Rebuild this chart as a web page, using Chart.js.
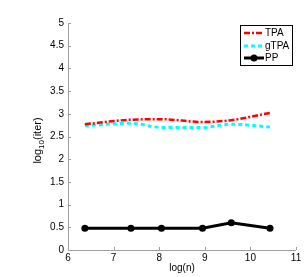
<!DOCTYPE html>
<html><head><meta charset="utf-8">
<script src="https://cdn.jsdelivr.net/npm/chart.js@4/dist/chart.umd.min.js"></script>
<style>html,body{margin:0;padding:0;background:#fff}#w{width:304px;height:277px}</style>
</head><body><div id="w"><canvas id="c" width="304" height="277"></canvas></div>
<script>
const xValues = [6.37, 7.38, 8.05, 8.95, 9.58, 10.43];
const tpa = [2.77, 2.87, 2.88, 2.82, 2.86, 3.02];
const gtpa = [2.74, 2.79, 2.70, 2.70, 2.77, 2.71];
const pp = [0.477, 0.477, 0.477, 0.477, 0.60, 0.477];
const seriesNames = ['TPA', 'gTPA', 'PP'];
const xTicks = [6, 7, 8, 9, 10, 11];
const yTicks = [0, 0.5, 1, 1.5, 2, 2.5, 3, 3.5, 4, 4.5, 5];

const FONT = 'Liberation Sans, Arial, sans-serif';
const pts = a => a.map((v, i) => ({x: xValues[i], y: v}));

const deco = {
  id: 'deco',
  afterDraw(chart) {
    const ctx = chart.ctx, ca = chart.chartArea;
    const xs = chart.scales.x, ys = chart.scales.y;
    ctx.save();
    ctx.strokeStyle = '#a0a0a0'; ctx.lineWidth = 1;
    ctx.beginPath();
    ctx.moveTo(Math.round(ca.left) + 0.5, ca.top);
    ctx.lineTo(Math.round(ca.left) + 0.5, Math.round(ca.bottom) + 0.5);
    ctx.lineTo(ca.right, Math.round(ca.bottom) + 0.5);
    ctx.stroke();
    ctx.beginPath();
    yTicks.forEach(v => { const y = Math.round(ys.getPixelForValue(v)) + 0.5; ctx.moveTo(ca.left, y); ctx.lineTo(ca.left + 3, y); });
    xTicks.forEach(v => { const x = Math.round(xs.getPixelForValue(v)) + 0.5; ctx.moveTo(x, ca.bottom); ctx.lineTo(x, ca.bottom - 3); });
    ctx.stroke();
    ctx.fillStyle = '#000';
    ctx.font = '10px ' + FONT;
    ctx.textAlign = 'center'; ctx.textBaseline = 'middle';
    ctx.fillText('log(n)', (ca.left + ca.right) / 2, 268);
    ctx.translate(37, (ca.top + ca.bottom) / 2 + 4);
    ctx.rotate(-Math.PI / 2);
    ctx.textAlign = 'left'; ctx.textBaseline = 'alphabetic';
    const f1 = '11px ' + FONT, f2 = '8px ' + FONT;
    ctx.font = f1; const w1 = ctx.measureText('log').width, w3 = ctx.measureText('(iter)').width;
    ctx.font = f2; const w2 = ctx.measureText('10').width;
    let x0 = -(w1 + w2 + w3) / 2;
    ctx.font = f1; ctx.fillText('log', x0, 4); x0 += w1;
    ctx.font = f2; ctx.fillText('10', x0, 7); x0 += w2;
    ctx.font = f1; ctx.fillText('(iter)', x0, 4);
    ctx.setTransform(1, 0, 0, 1, 0, 0);
    const bx = 240.5, by = 25.5, bw = 52, bh = 40;
    ctx.fillStyle = '#fff'; ctx.fillRect(bx, by, bw, bh);
    ctx.strokeStyle = '#000'; ctx.lineWidth = 1; ctx.strokeRect(bx, by, bw, bh);
    const rows = [33, 46, 58];
    chart.data.datasets.forEach((ds, i) => {
      ctx.strokeStyle = ds.borderColor; ctx.lineWidth = ds.borderWidth;
      ctx.setLineDash(ds.borderDash || []);
      ctx.beginPath(); ctx.moveTo(244, rows[i]); ctx.lineTo(264, rows[i]); ctx.stroke();
      ctx.setLineDash([]);
      if (ds.pointRadius) { ctx.fillStyle = ds.pointBackgroundColor; ctx.beginPath(); ctx.arc(254, rows[i], ds.pointRadius, 0, 2 * Math.PI); ctx.fill(); }
      ctx.fillStyle = '#000'; ctx.font = '10px ' + FONT; ctx.textAlign = 'left'; ctx.textBaseline = 'middle';
      ctx.fillText(seriesNames[i], 265, rows[i]);
    });
    ctx.restore();
  }
};

new Chart(document.getElementById('c'), {
  type: 'line',
  data: {
    datasets: [
      {label: seriesNames[0], data: pts(tpa), borderColor: '#ff0000', borderWidth: 2.5, borderDash: [6, 2, 2, 2], pointRadius: 0, tension: 0.4, cubicInterpolationMode: 'monotone', fill: false},
      {label: seriesNames[1], data: pts(gtpa), borderColor: '#00ffff', borderWidth: 3, borderDash: [4, 3], pointRadius: 0, tension: 0.4, cubicInterpolationMode: 'monotone', fill: false},
      {label: seriesNames[2], data: pts(pp), borderColor: '#000000', borderWidth: 3, pointRadius: 3.5, pointBackgroundColor: '#000', pointBorderColor: '#000', pointBorderWidth: 0, tension: 0, fill: false}
    ]
  },
  options: {
    responsive: false, animation: false, devicePixelRatio: 1,
    layout: {padding: {top: 23, right: 8, left: 0, bottom: 0}},
    plugins: {legend: {display: false}, tooltip: {enabled: false}},
    scales: {
      x: {type: 'linear', min: 6, max: 11, afterBuildTicks: s => { s.ticks = xTicks.map(v => ({value: v})); },
          afterFit: s => { s.height = 27; },
          grid: {display: false, drawTicks: false, tickLength: 0}, border: {display: false},
          ticks: {font: {family: FONT, size: 10}, color: '#000', padding: 2, maxRotation: 0, autoSkip: false}},
      y: {type: 'linear', min: 0, max: 5, afterBuildTicks: s => { s.ticks = yTicks.map(v => ({value: v})); },
          afterFit: s => { s.width = 68; },
          grid: {display: false, drawTicks: false, tickLength: 0}, border: {display: false},
          ticks: {font: {family: FONT, size: 10}, color: '#000', padding: 4, autoSkip: false, callback: v => String(v)}}
    }
  },
  plugins: [deco]
});
</script></body></html>
